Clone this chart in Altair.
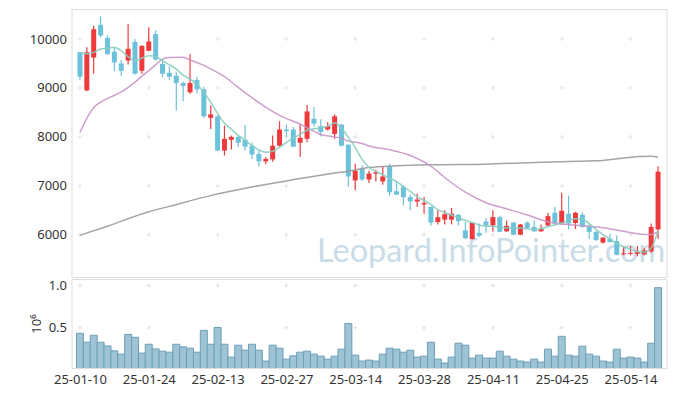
import altair as alt
import pandas as pd

dates = ["25-01-10","25-01-13","25-01-14","25-01-15","25-01-16","25-01-17",
         "25-01-20","25-01-21","25-01-22","25-01-23","25-01-24","25-01-31",
         "25-02-03","25-02-04","25-02-05","25-02-06","25-02-07",
         "25-02-10","25-02-11","25-02-12","25-02-13","25-02-14",
         "25-02-17","25-02-18","25-02-19","25-02-20","25-02-21",
         "25-02-24","25-02-25","25-02-26","25-02-27","25-02-28",
         "25-03-04","25-03-05","25-03-06","25-03-07",
         "25-03-10","25-03-11","25-03-12","25-03-13","25-03-14",
         "25-03-17","25-03-18","25-03-19","25-03-20","25-03-21",
         "25-03-24","25-03-25","25-03-26","25-03-27","25-03-28",
         "25-03-31","25-04-01","25-04-02","25-04-03","25-04-04",
         "25-04-07","25-04-08","25-04-09","25-04-10","25-04-11",
         "25-04-14","25-04-15","25-04-16","25-04-17","25-04-18",
         "25-04-21","25-04-22","25-04-23","25-04-24","25-04-25",
         "25-04-28","25-04-29","25-04-30","25-05-02",
         "25-05-07","25-05-08","25-05-09",
         "25-05-12","25-05-13","25-05-14","25-05-15","25-05-16",
         "25-05-19","25-05-20"]

opens = [9730,8950,9620,10290,10020,9740,9500,9560,9940,9350,
         9760,10100,9490,9310,9250,9100,8910,9160,8970,8390,
         8420,7720,7940,8000,7940,7820,7650,7500,7540,7820,
         8150,8150,7880,7960,8370,8220,8150,8060,8250,7840,
         7110,7350,7130,7250,7090,7400,6890,6980,6770,6680,
         6620,6570,6260,6310,6310,6410,6090,5910,6040,6270,
         6190,6360,6070,6250,6000,6250,6160,6070,6190,6450,
         6230,6430,6240,6410,6170,6060,5840,5920,5870,5600,
         5610,5610,5600,5660,6110]
closes = [9230,9730,10200,10070,9690,9520,9350,9800,9290,9860,
          9950,9580,9290,9230,9100,9040,9100,8970,8420,8460,
          7720,7960,8000,7880,7800,7640,7500,7550,7820,8150,
          8120,7800,7980,8520,8270,8100,8220,8420,7820,7190,
          7310,7130,7250,7280,7190,6870,6820,6770,6680,6720,
          6650,6250,6360,6420,6430,6280,5930,6240,5980,6190,
          6360,6060,6180,6000,6210,6140,6070,6120,6380,6230,
          6490,6230,6450,6160,6060,5890,5940,5850,5590,5620,
          5630,5640,5680,6160,7290]
highs = [9740,9830,10270,10460,10080,9830,9570,10310,10000,9870,
         10240,10180,9580,9440,9320,9130,9690,9230,9030,8640,
         8440,8230,8030,8020,8250,7880,7720,7590,8030,8320,
         8250,8200,8270,8650,8610,8360,8300,8460,8260,7850,
         7450,7420,7310,7330,7400,7450,7090,7010,6820,6840,
         6770,6580,6500,6500,6550,6420,6260,6260,6230,6340,
         6500,6390,6290,6260,6220,6270,6290,6210,6450,6570,
         6860,6800,6470,6460,6230,6070,5960,6020,5990,5770,
         5770,5770,5730,6230,7400]
lows = [9160,8930,9290,10030,9680,9340,9250,9480,9270,9290,
        9750,9560,9220,9160,8540,8730,8880,8890,8390,8160,
        7710,7620,7740,7800,7720,7550,7400,7440,7490,7800,
        8000,7790,7590,7890,8200,8010,8130,7960,7800,6980,
        6910,7100,7060,7090,7020,6800,6810,6600,6500,6570,
        6430,6190,6210,6210,6210,6190,5910,5910,5950,6040,
        6060,6050,6060,5990,5990,6130,6060,6060,6180,6200,
        6200,6110,6120,6140,5920,5880,5820,5840,5580,5580,
        5580,5560,5580,5630,5920]
volumes = [0.434,0.329,0.411,0.329,0.285,0.227,0.188,0.422,0.387,0.200,
           0.305,0.250,0.223,0.211,0.305,0.274,0.258,0.211,0.469,0.305,
           0.504,0.305,0.153,0.294,0.235,0.305,0.235,0.106,0.294,0.258,
           0.129,0.168,0.211,0.223,0.188,0.164,0.129,0.164,0.247,0.551,
           0.176,0.106,0.118,0.106,0.188,0.258,0.247,0.211,0.235,0.153,
           0.164,0.329,0.129,0.083,0.153,0.317,0.294,0.141,0.176,0.141,
           0.141,0.223,0.164,0.129,0.106,0.094,0.129,0.094,0.247,0.164,
           0.399,0.176,0.164,0.282,0.188,0.164,0.106,0.094,0.247,0.141,
           0.153,0.141,0.094,0.317,0.974]

ma5 = [9720,9700,9727,9795,9810,9830,9760,9640,9555,9610,
       9660,9640,9555,9470,9385,9260,9180,9080,8910,8710,
       8480,8280,8155,8030,7930,7825,7735,7685,7705,7785,
       7890,7980,8050,8135,8165,8190,8215,8290,8175,7990,
       7785,7540,7375,7295,7230,7150,7090,6985,6885,6780,
       6700,6620,6515,6455,6400,6350,6290,6250,6200,6175,
       6175,6155,6140,6140,6140,6125,6105,6125,6165,6200,
       6240,6290,6325,6310,6230,6105,6005,5910,5820,5755,
       5705,5660,5645,5730,6085]

ma20_idx = [0,1,2,3,5,6,8,9,11,12,13,15,16,18,19,21,23,26,29,32,35,38,39,41,42,
            45,48,51,53,56,59,62,65,68,71,73,76,79,82,83,84]
ma20_val = [8090,8380,8600,8710,8850,8920,9120,9240,9470,9590,9620,9625,9570,9460,
            9390,9230,9010,8700,8440,8260,8050,7970,7915,7865,7815,7740,7620,7400,
            7170,6870,6655,6530,6405,6265,6205,6185,6145,6070,6005,6005,6070]

ma60_idx = [0,4,10,13,19,24,30,37,39,42,46,51,59,65,71,75,81,83,84]
ma60_val = [5990,6175,6470,6580,6800,6950,7100,7260,7300,7375,7408,7430,7443,
            7473,7498,7510,7596,7606,7586]

tick_idx = list(range(0, 85, 10))
tick_labels = [dates[i] for i in tick_idx]
price_ticks = [6000, 7000, 8000, 9000, 10000]
vol_ticks = [0.5, 1.0]
watermark = "Leopard.InfoPointer.com"

RED = "#ef3a3d"
BLUE = "#6cc2da"
FONT = "Noto Sans"
W, H1, H2 = 595, 268, 89

df = pd.DataFrame({"i": list(range(len(dates))), "date": dates, "open": opens,
                   "close": closes, "high": highs, "low": lows, "volume": volumes})
df["dir"] = ["up" if c >= o else "down" for o, c in zip(opens, closes)]
ma5_df = pd.DataFrame({"i": list(range(len(ma5))), "v": ma5})
ma20_df = pd.DataFrame({"i": ma20_idx, "v": ma20_val})
ma60_df = pd.DataFrame({"i": ma60_idx, "v": ma60_val})

xscale = alt.Scale(domain=[-0.5, 84.5], nice=False, zero=False)
yscale = alt.Scale(domain=[5137, 10613], nice=False, zero=False)
vscale = alt.Scale(domain=[0.024, 1.077], nice=False, zero=False)
color = alt.Color("dir:N", scale=alt.Scale(domain=["up", "down"], range=[RED, BLUE]), legend=None)

label_expr = "[" + ",".join("'%s'" % t for t in tick_labels) + "][round(datum.value/10)]"

yaxis = alt.Axis(values=price_ticks, format="d", title=None, domain=False, ticks=False, grid=False,
                 labelFontSize=13, labelColor="#333333", labelFont=FONT, labelPadding=5,
                 minExtent=43, maxExtent=43)

cross_shape = "M-1,0H1M0,-1V1"
grid_main = pd.DataFrame([(i, p) for i in tick_idx for p in price_ticks], columns=["i", "p"])
grid_vol = pd.DataFrame([(i, p) for i in tick_idx for p in vol_ticks], columns=["i", "p"])

crosses = alt.Chart(grid_main).mark_point(shape=cross_shape, size=20, filled=False,
                                          color="#e2e2e2", strokeWidth=1, opacity=1).encode(
    x=alt.X("i:Q", scale=xscale, axis=None),
    y=alt.Y("p:Q", scale=yscale, axis=yaxis))

wm = alt.Chart(pd.DataFrame({"t": [watermark]})).mark_text(
    align="left", baseline="alphabetic", font="Lato", fontSize=32.5, color="#c9dce7").encode(
    x=alt.value(245.5), y=alt.value(253.3), text="t:N")

wick = alt.Chart(df).mark_rule(strokeWidth=1.2).encode(
    x=alt.X("i:Q", scale=xscale, axis=None),
    y=alt.Y("low:Q", scale=yscale, axis=yaxis), y2="high:Q", color=color)
body = alt.Chart(df).mark_bar(size=5).encode(
    x=alt.X("i:Q", scale=xscale, axis=None),
    y=alt.Y("open:Q", scale=yscale, axis=yaxis), y2="close:Q", color=color)

def ma_line(d, col):
    return alt.Chart(d).mark_line(color=col, strokeWidth=1.5, interpolate="monotone", opacity=0.9).encode(
        x=alt.X("i:Q", scale=xscale, axis=None),
        y=alt.Y("v:Q", scale=yscale, axis=yaxis))

main = alt.layer(crosses, wm, wick, body,
                 ma_line(ma60_df, "#9a9a9a"),
                 ma_line(ma20_df, "#c995c6"),
                 ma_line(ma5_df, "#86cdbf")).properties(width=W, height=H1)

vaxis = alt.Axis(values=vol_ticks, format=".1f", title="10⁶", domain=False, ticks=False, grid=False,
                 labelFontSize=13, labelColor="#333333", labelFont=FONT, labelPadding=5,
                 minExtent=27, maxExtent=27, titlePadding=1.5, titleFont=FONT,
                 titleFontSize=13, titleFontWeight="normal", titleColor="#333333")
xaxis = alt.Axis(values=tick_idx, labelExpr=label_expr, title=None, domain=False, ticks=False,
                 grid=False, labelFontSize=13, labelColor="#333333", labelFont=FONT,
                 labelPadding=5, labelAngle=0)

vcross = alt.Chart(grid_vol).mark_point(shape=cross_shape, size=20, filled=False,
                                        color="#e2e2e2", strokeWidth=1, opacity=1).encode(
    x=alt.X("i:Q", scale=xscale, axis=xaxis),
    y=alt.Y("p:Q", scale=vscale, axis=vaxis))
vbars = alt.Chart(df).mark_bar(size=7, fill="#9dc3d5", stroke="#6d9fb8", strokeWidth=1, clip=True).encode(
    x=alt.X("i:Q", scale=xscale, axis=xaxis),
    y=alt.Y("volume:Q", scale=vscale, axis=vaxis))

vol = alt.layer(vcross, vbars).properties(width=W, height=H2)

chart = alt.vconcat(main, vol, spacing=0).properties(
    padding={"left": 19.5, "top": 0, "right": 0, "bottom": 2}
).configure_view(stroke="#e4e4e4", strokeWidth=1).configure(background="white")

chart.save("out.html", embed_options={"renderer": "svg", "actions": False})
